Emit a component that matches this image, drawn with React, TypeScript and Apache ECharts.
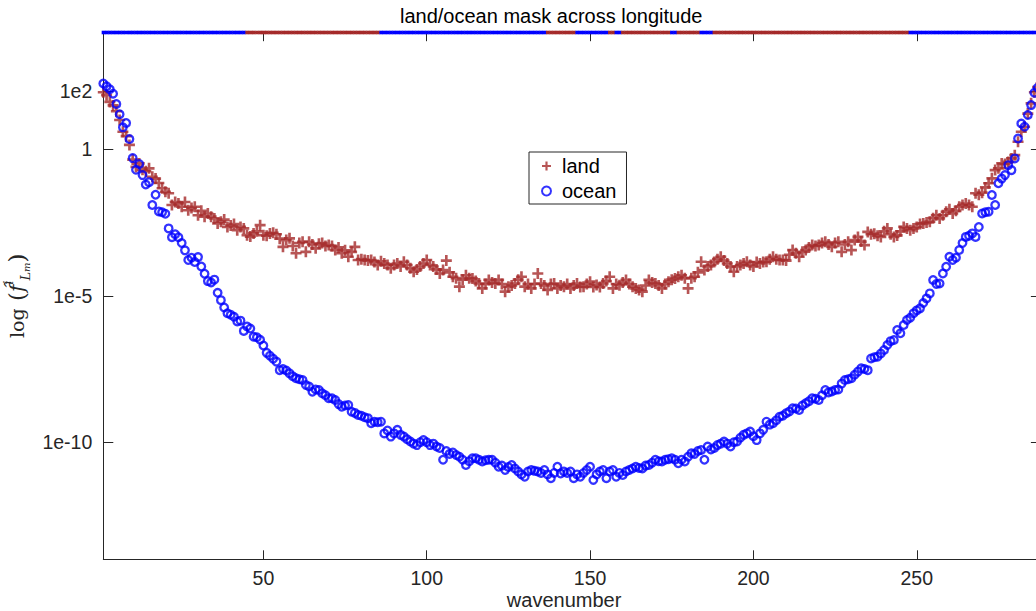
import React, { useEffect, useRef } from 'react';
import * as echarts from 'echarts';

// wavenumber index 1..288
const wavenumbers: number[] = Array.from({ length: 288 }, (_, k) => k + 1);

// log10 of the spectral coefficients
const landLog10: number[] = [
  1.95, 1.85, 1.62, 1.5, 1.3, 1.0, 0.6, 0.45, 0.15, -0.35,
  -0.6, -0.48, -0.7, -0.75, -0.65, -0.94, -1.0, -1.15, -1.33, -1.45,
  -1.5, -1.9, -1.8, -1.85, -1.96, -1.8, -2.08, -2.0, -1.96, -2.25,
  -2.1, -2.3, -2.19, -2.3, -2.36, -2.53, -2.47, -2.4, -2.65, -2.6,
  -2.55, -2.76, -2.65, -2.7, -2.93, -2.98, -2.87, -2.8, -2.59, -2.93,
  -2.95, -2.87, -2.85, -2.9, -3.05, -3.33, -3.1, -3.04, -3.3, -3.55,
  -3.2, -3.16, -3.5, -3.16, -3.25, -3.38, -3.22, -3.2, -3.3, -3.27,
  -3.3, -3.44, -3.35, -3.55, -3.45, -3.67, -3.5, -3.33, -3.78, -3.75,
  -3.78, -3.8, -3.78, -3.85, -3.95, -3.82, -3.9, -3.95, -4.06, -3.95,
  -3.9, -4.0, -3.84, -3.95, -4.06, -4.18, -4.1, -4.0, -3.9, -3.78,
  -3.95, -4.0, -4.1, -4.24, -4.12, -3.8, -4.2, -4.35, -4.4, -4.69,
  -4.45, -4.3, -4.4, -4.41, -4.5, -4.58, -4.75, -4.6, -4.46, -4.55,
  -4.58, -4.46, -4.6, -4.86, -4.69, -4.65, -4.58, -4.45, -4.35, -4.69,
  -4.6, -4.75, -4.6, -4.24, -4.58, -4.65, -4.8, -4.6, -4.58, -4.75,
  -4.65, -4.69, -4.6, -4.75, -4.65, -4.58, -4.7, -4.69, -4.6, -4.52,
  -4.7, -4.63, -4.7, -4.58, -4.5, -4.35, -4.75, -4.6, -4.64, -4.55,
  -4.46, -4.6, -4.69, -4.75, -4.8, -4.86, -4.65, -4.46, -4.55, -4.58,
  -4.65, -4.75, -4.6, -4.52, -4.45, -4.41, -4.35, -4.3, -4.4, -4.75,
  -4.4, -4.35, -4.2, -3.84, -4.12, -4.0, -3.95, -3.85, -3.75, -3.67,
  -3.8, -3.9, -4.0, -4.18, -4.0, -3.95, -3.9, -3.84, -3.95, -4.0,
  -3.85, -3.9, -3.85, -3.84, -3.75, -3.67, -3.75, -3.78, -3.78, -3.8,
  -3.6, -3.44, -3.55, -3.67, -3.5, -3.44, -3.35, -3.27, -3.3, -3.27,
  -3.2, -3.16, -3.25, -3.33, -3.2, -3.16, -3.5, -3.25, -3.16, -3.44,
  -3.1, -2.99, -3.15, -3.27, -2.82, -2.9, -2.88, -2.95, -2.99, -2.8,
  -2.7, -2.9, -2.99, -2.94, -2.8, -2.65, -2.7, -2.76, -2.7, -2.65,
  -2.55, -2.53, -2.5, -2.47, -2.35, -2.25, -2.36, -2.25, -2.13, -2.05,
  -2.19, -2.1, -1.96, -1.9, -1.85, -1.9, -1.96, -1.5, -1.55, -1.48,
  -1.3, -1.16, -0.99, -0.71, -0.65, -0.48, -0.5, -0.43, -0.31, -0.2,
  0.26, 0.6, 0.77, 1.22, 1.57, 1.95, 2.13, 2.25,
];

const oceanLog10: number[] = [
  2.25, 2.15, 2.05, 1.9, 1.55, 1.2, 0.75, 0.9, 0.35, -0.3,
  -0.7, -0.5, -0.88, -1.2, -1.12, -1.9, -1.55, -2.12, -2.15, -2.2,
  -2.7, -3.0, -2.9, -3.0, -3.2, -3.45, -3.78, -3.7, -3.85, -3.68,
  -4.0, -4.25, -4.5, -4.55, -4.45, -4.9, -5.15, -5.4, -5.6, -5.65,
  -5.72, -5.88, -5.85, -6.2, -6.05, -6.12, -6.4, -6.42, -6.5, -6.7,
  -6.95, -7.05, -7.15, -7.25, -7.54, -7.5, -7.55, -7.65, -7.75, -7.82,
  -7.85, -7.88, -8.05, -8.1, -8.28, -8.2, -8.22, -8.33, -8.4, -8.5,
  -8.5, -8.56, -8.7, -8.79, -8.75, -8.73, -8.96, -9.0, -9.07, -9.1,
  -9.15, -9.18, -9.35, -9.3, -9.32, -9.3, -9.7, -9.6, -9.81, -9.7,
  -9.58, -9.75, -9.81, -9.9, -9.98, -10.05, -10.1, -10.0, -9.93, -10.0,
  -10.1, -10.05, -10.15, -10.2, -10.6, -10.3, -10.4, -10.35, -10.44, -10.5,
  -10.6, -10.78, -10.65, -10.55, -10.55, -10.6, -10.66, -10.62, -10.6, -10.6,
  -10.7, -10.84, -10.8, -10.95, -10.85, -10.78, -10.9, -11.0, -11.1, -11.18,
  -11.0, -10.95, -10.98, -11.0, -11.05, -10.95, -11.1, -11.23, -11.05, -10.84,
  -11.07, -11.0, -11.05, -11.0, -11.23, -11.1, -11.18, -11.05, -10.95, -10.84,
  -11.29, -11.1, -11.0, -10.95, -11.23, -11.0, -10.95, -11.18, -11.05, -11.12,
  -11.0, -10.95, -10.9, -10.84, -10.88, -10.9, -10.8, -10.78, -10.7, -10.6,
  -10.65, -10.66, -10.6, -10.58, -10.55, -10.6, -10.72, -10.6, -10.66, -10.5,
  -10.38, -10.4, -10.3, -10.27, -10.6, -10.15, -10.25, -10.2, -10.1, -10.05,
  -9.98, -10.05, -10.15, -10.0, -9.98, -9.85, -9.75, -9.7, -9.64, -9.8,
  -9.93, -9.7, -9.58, -9.3, -9.4, -9.35, -9.25, -9.13, -9.1, -9.01,
  -8.95, -8.84, -8.85, -8.9, -8.75, -8.67, -8.6, -8.5, -8.52, -8.56,
  -8.4, -8.22, -8.3, -8.27, -8.22, -8.2, -8.0, -7.88, -7.85, -7.82,
  -7.7, -7.59, -7.48, -7.5, -7.54, -7.14, -7.1, -7.08, -6.97, -6.85,
  -6.68, -6.55, -6.51, -6.17, -6.28, -6.0, -5.83, -5.75, -5.6, -5.5,
  -5.43, -5.25, -5.09, -4.92, -4.46, -4.6, -4.58, -4.24, -4.01, -3.67,
  -3.78, -3.7, -3.44, -3.2, -2.99, -2.95, -2.87, -2.99, -2.65, -2.19,
  -2.15, -2.13, -1.56, -1.9, -1.16, -1.0, -0.88, -0.54, -0.71, -0.31,
  0.37, 0.88, 0.77, 1.17, 1.51, 1.93, 2.1, 2.25,
];

// land (1) / ocean (0) mask runs across longitude: [first index, last index, isLand]
const maskRuns: [number, number, number][] = [
  [1, 44, 0], [45, 85, 1], [86, 136, 0], [137, 145, 1], [146, 155, 0],
  [156, 157, 1], [158, 159, 0], [160, 174, 1], [175, 176, 0], [177, 183, 1],
  [184, 187, 0], [188, 247, 1], [248, 288, 0],
];

const xTicks: number[] = [50, 100, 150, 200, 250];
const yTicks: number[] = [-10, -5, 0, 2];

const BROWN = '#a52a2a';
const BLUE = '#0000ff';
const AXIS = '#262626';
const FONT = '"Liberation Sans", Arial, Helvetica, sans-serif';
const SERIF = '"DejaVu Serif", "Liberation Serif", serif';

export default function App() {
  const ref = useRef<HTMLDivElement>(null);

  useEffect(() => {
    if (!ref.current) return;
    const chart = echarts.init(ref.current, undefined, { renderer: 'svg' });

    const landData = wavenumbers.map((w, k) => [w, landLog10[k]]);
    const oceanData = wavenumbers.map((w, k) => [w, oceanLog10[k]]);
    const maskData: number[][] = [];
    maskRuns.forEach(([a, b, land]) => {
      for (let i = a; i <= b; i++) maskData.push([i, land]);
    });

    const yFmt = (v: number) => (v === 0 ? '1' : '1e' + v);

    chart.setOption({
      animation: false,
      backgroundColor: '#fff',
      title: {
        text: 'land/ocean mask across longitude',
        left: 400,
        top: 6,
        padding: 0,
        textStyle: { fontSize: 20, fontWeight: 'normal', color: '#000', fontFamily: FONT },
      },
      legend: {
        orient: 'vertical',
        left: 529,
        top: 152,
        padding: [4, 10, 3, 12],
        itemGap: 5,
        itemWidth: 21,
        itemHeight: 9,
        borderColor: AXIS,
        borderWidth: 1,
        backgroundColor: '#fff',
        textStyle: { fontSize: 20, color: '#000', fontFamily: FONT },
        data: ['land', 'ocean'],
      },
      grid: { left: 103.3, right: -4.9, top: 32.2, bottom: 51.7, containLabel: false, outerBoundsMode: 'none' },
      xAxis: [
        {
          type: 'value',
          min: 1,
          max: 288,
          position: 'bottom',
          axisLine: { show: true, onZero: false, lineStyle: { color: AXIS, width: 1 } },
          axisTick: { show: true, inside: true, length: 9, customValues: xTicks, lineStyle: { color: AXIS } },
          axisLabel: { show: true, customValues: xTicks, margin: 9, fontSize: 19.5, color: AXIS, fontFamily: FONT },
          splitLine: { show: false },
          name: 'wavenumber',
          nameLocation: 'middle',
          nameGap: 31,
          nameMoveOverlap: false,
          nameTextStyle: { fontSize: 20, lineHeight: 20, color: AXIS, fontFamily: FONT, padding: [0, 16, 0, 0] },
        },
        {
          type: 'value',
          min: 1,
          max: 288,
          position: 'top',
          axisLine: { show: true, onZero: false, lineStyle: { color: AXIS, width: 1 } },
          axisTick: { show: true, inside: true, length: 9, customValues: xTicks, lineStyle: { color: AXIS } },
          axisLabel: { show: false },
          splitLine: { show: false },
        },
      ],
      yAxis: [
        {
          type: 'value',
          min: -14,
          max: 4,
          position: 'left',
          axisLine: { show: true, onZero: false, lineStyle: { color: AXIS, width: 1 } },
          axisTick: { show: true, inside: true, length: 10, customValues: yTicks, lineStyle: { color: AXIS } },
          axisLabel: { show: true, customValues: yTicks, formatter: yFmt, margin: 11, fontSize: 19.5, color: AXIS, fontFamily: FONT },
          splitLine: { show: false },
          name: '{t|log}{p| (}{it|f̂}{sup|i}{sub|L}{ss|m}{p|)}',
          nameLocation: 'middle',
          nameGap: 62,
          nameTextStyle: {
            color: AXIS,
            rich: {
              t: { fontFamily: SERIF, fontSize: 19, color: AXIS, lineHeight: 30, verticalAlign: 'middle' },
              p: { fontFamily: SERIF, fontSize: 23, color: AXIS, lineHeight: 30, verticalAlign: 'middle' },
              it: { fontFamily: SERIF, fontStyle: 'italic', fontSize: 20, color: AXIS, lineHeight: 30, verticalAlign: 'middle' },
              sup: { fontFamily: SERIF, fontStyle: 'italic', fontSize: 13, color: AXIS, verticalAlign: 'top', lineHeight: 15 },
              sub: { fontFamily: SERIF, fontStyle: 'italic', fontSize: 13, color: AXIS, verticalAlign: 'bottom', lineHeight: 15 },
              ss: { fontFamily: SERIF, fontStyle: 'italic', fontSize: 10, color: AXIS, verticalAlign: 'bottom', lineHeight: 10 },
            },
          },
        },
        {
          type: 'value',
          min: -14,
          max: 4,
          position: 'right',
          axisLine: { show: true, onZero: false, lineStyle: { color: AXIS, width: 1 } },
          axisTick: { show: true, inside: true, length: 10, customValues: yTicks, lineStyle: { color: AXIS } },
          axisLabel: { show: false },
          splitLine: { show: false },
        },
      ],
      series: [
        {
          name: 'land',
          type: 'scatter',
          xAxisIndex: 0,
          yAxisIndex: 0,
          symbol: 'path://M3.8,0H6.2V3.8H10V6.2H6.2V10H3.8V6.2H0V3.8H3.8Z',
          symbolSize: 11,
          itemStyle: { color: BROWN },
          data: landData,
          z: 2,
        },
        {
          name: 'ocean',
          type: 'scatter',
          xAxisIndex: 0,
          yAxisIndex: 0,
          symbol: 'circle',
          symbolSize: 7.6,
          itemStyle: { color: 'rgba(255,255,255,0)', borderColor: BLUE, borderWidth: 2.3 },
          data: oceanData,
          z: 3,
        },
        {
          name: 'mask',
          type: 'custom',
          xAxisIndex: 0,
          yAxisIndex: 0,
          clip: false,
          z: 10,
          data: maskData,
          renderItem: (params: any, api: any) => {
            const i = api.value(0);
            const land = api.value(1);
            const p0 = api.coord([i - 0.5, 4]);
            const p1 = api.coord([i + 0.5, 4]);
            return {
              type: 'rect',
              shape: { x: p0[0], y: p0[1] - 1.5, width: p1[0] - p0[0] + 0.4, height: 3.6 },
              style: { fill: land ? BROWN : BLUE },
            };
          },
        },
      ],
    });

    return () => chart.dispose();
  }, []);

  return (
    <div
      ref={ref}
      style={{ position: 'fixed', left: 0, top: 0, width: 1036, height: 611, background: '#fff' }}
    />
  );
}
